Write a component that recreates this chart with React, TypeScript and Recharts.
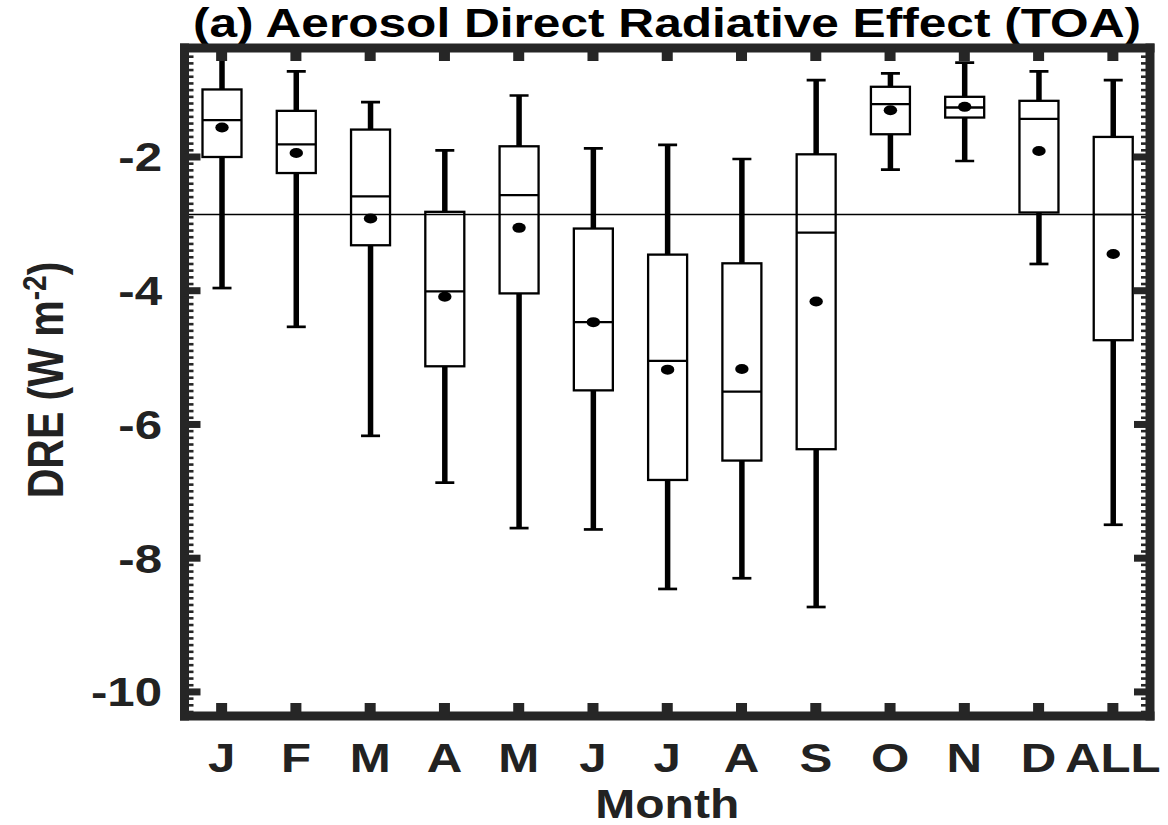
import { ComposedChart, Bar, XAxis, YAxis, ReferenceLine } from "recharts";

// monthly box plots of aerosol DRE at TOA (W m-2)
const months = ["J", "F", "M", "A", "M", "J", "J", "A", "S", "O", "N", "D", "ALL"];
const whiskerHigh = [-0.4, -0.72, -1.18, -1.9, -1.08, -1.87, -1.82, -2.03, -0.85, -0.75, -0.59, -0.72, -0.85];
const q3 = [-0.99, -1.31, -1.59, -2.82, -1.84, -3.07, -3.46, -3.59, -1.96, -0.95, -1.1, -1.16, -1.7];
const median = [-1.45, -1.81, -2.59, -4.01, -2.57, -4.47, -5.05, -5.51, -3.13, -1.21, -1.26, -1.43, -2.86];
const mean = [-1.56, -1.94, -2.92, -4.09, -3.06, -4.47, -5.18, -5.17, -4.16, -1.3, -1.25, -1.91, -3.45];
const q1 = [-2.0, -2.24, -3.32, -5.13, -4.04, -5.49, -6.83, -6.54, -6.37, -1.66, -1.41, -2.83, -4.74];
const whiskerLow = [-3.96, -4.54, -6.17, -6.87, -7.55, -7.57, -8.46, -8.3, -8.73, -2.19, -2.06, -3.6, -7.5];
const overallMedian = -2.86;

const majorTicks = [-10, -8, -6, -4, -2];
const yTicks = Array.from({ length: 100 }, (_, i) => (i - 103) / 10);

const FRAME = "#262626";
const FONT = "'Liberation Sans', Arial, Helvetica, sans-serif";

const data = months.map((m, i) => ({
  month: m,
  hi: whiskerHigh[i],
  lo: whiskerLow[i],
  q3: q3[i],
  q1: q1[i],
  median: median[i],
  mean: mean[i],
}));

function BoxShape(props: any) {
  const { x, y, width, height, payload } = props;
  const top = Math.min(y, y + height);
  const bot = Math.max(y, y + height);
  const { hi, lo } = payload;
  const py = (v: number) => top + ((hi - v) / (hi - lo)) * (bot - top);
  const cx = x + width / 2;
  const bw = 19.5;
  const cw = 9.5;
  return (
    <g>
      <line x1={cx} x2={cx} y1={py(hi)} y2={py(payload.q3)} stroke="#000" strokeWidth={5.5} />
      <line x1={cx} x2={cx} y1={py(payload.q1)} y2={py(lo)} stroke="#000" strokeWidth={5.5} />
      <line x1={cx - cw} x2={cx + cw} y1={py(hi)} y2={py(hi)} stroke="#000" strokeWidth={2.7} />
      <line x1={cx - cw} x2={cx + cw} y1={py(lo)} y2={py(lo)} stroke="#000" strokeWidth={2.7} />
      <rect
        x={cx - bw}
        y={py(payload.q3)}
        width={bw * 2}
        height={py(payload.q1) - py(payload.q3)}
        fill="none"
        stroke="#000"
        strokeWidth={2.3}
      />
      <line
        x1={cx - bw}
        x2={cx + bw}
        y1={py(payload.median)}
        y2={py(payload.median)}
        stroke="#000"
        strokeWidth={payload.month === "ALL" ? 1.6 : 2.3}
      />
      <ellipse cx={cx} cy={py(payload.mean)} rx={6.7} ry={5} fill="#000" />
    </g>
  );
}

function BottomTick(props: any) {
  const { x, y, payload } = props;
  return (
    <g>
      <rect x={x - 5.5} y={y - 13} width={11} height={13} fill={FRAME} />
      <g transform={`translate(${x},${y + 56}) scale(1.2,1)`}>
        <text textAnchor="middle" fontSize={41} fontWeight="bold" fontFamily={FONT} fill="#222">
          {payload.value}
        </text>
      </g>
    </g>
  );
}

function TopTick(props: any) {
  const { x, y } = props;
  return <rect x={x - 5.5} y={y} width={11} height={13} fill={FRAME} />;
}

function LeftTick(props: any) {
  const { x, y, payload } = props;
  const v = payload.value;
  if (majorTicks.includes(v)) {
    return (
      <g>
        <rect x={x} y={y - 3.5} width={16} height={7} fill={FRAME} />
        <g transform={`translate(${x - 22.5},${y + 14.5}) scale(1.2,1)`}>
          <text textAnchor="end" fontSize={41} fontWeight="bold" fontFamily={FONT} fill="#222">
            {String(v)}
          </text>
        </g>
      </g>
    );
  }
  return <rect x={x} y={y - 1.3} width={9} height={2.6} fill={FRAME} />;
}

function RightTick(props: any) {
  const { x, y, payload } = props;
  if (majorTicks.includes(payload.value)) {
    return <rect x={x - 16} y={y - 3.5} width={16} height={7} fill={FRAME} />;
  }
  return <rect x={x - 9} y={y - 1.3} width={9} height={2.6} fill={FRAME} />;
}

const frameLine = { stroke: FRAME, strokeWidth: 9, strokeLinecap: "square" as const };

export default function App() {
  return (
    <div style={{ position: "absolute", left: 0, top: 0, width: 1168, height: 825, background: "#fff" }}>
      <ComposedChart width={1168} height={825} data={data} margin={{ top: 0, right: 0, bottom: 0, left: 0 }}>
        <XAxis
          dataKey="month"
          height={109}
          axisLine={frameLine}
          tickLine={false}
          tickSize={0}
          tickMargin={0}
          interval={0}
          tick={(p: any) => <BottomTick {...p} />}
        />
        <XAxis
          xAxisId="top"
          orientation="top"
          dataKey="month"
          height={48}
          axisLine={frameLine}
          tickLine={false}
          tickSize={0}
          tickMargin={0}
          interval={0}
          tick={(p: any) => <TopTick {...p} />}
        />
        <YAxis
          type="number"
          domain={[-10.36, -0.37]}
          allowDataOverflow
          ticks={yTicks}
          interval={0}
          width={184.5}
          axisLine={frameLine}
          tickLine={false}
          tickSize={0}
          tickMargin={0}
          tick={(p: any) => <LeftTick {...p} />}
        />
        <YAxis
          yAxisId="right"
          orientation="right"
          type="number"
          domain={[-10.36, -0.37]}
          allowDataOverflow
          ticks={yTicks}
          interval={0}
          width={18}
          axisLine={frameLine}
          tickLine={false}
          tickSize={0}
          tickMargin={0}
          tick={(p: any) => <RightTick {...p} />}
        />
        <Bar
          dataKey={(d: any) => [d.lo, d.hi]}
          barSize={39}
          shape={(p: any) => <BoxShape {...p} />}
          isAnimationActive={false}
        />
        <ReferenceLine y={overallMedian} stroke="#000" strokeWidth={1.6} />
        <text
          x={193}
          y={37}
          textLength={948}
          lengthAdjust="spacingAndGlyphs"
          fontSize={40}
          fontWeight="bold"
          fontFamily={FONT}
          fill="#000"
        >
          (a) Aerosol Direct Radiative Effect (TOA)
        </text>
        <g transform="translate(667.25,818) scale(1.2,1)">
          <text textAnchor="middle" fontSize={40} fontWeight="bold" fontFamily={FONT} fill="#222">
            Month
          </text>
        </g>
        <g transform="translate(63,380) scale(1.2,1) rotate(-90)">
          <text textAnchor="middle" fontSize={41} fontWeight="bold" fontFamily={FONT} fill="#222">
            DRE (W m
            <tspan dy={-14} fontSize={28}>
              -2
            </tspan>
            <tspan dy={14}>)</tspan>
          </text>
        </g>
      </ComposedChart>
    </div>
  );
}
